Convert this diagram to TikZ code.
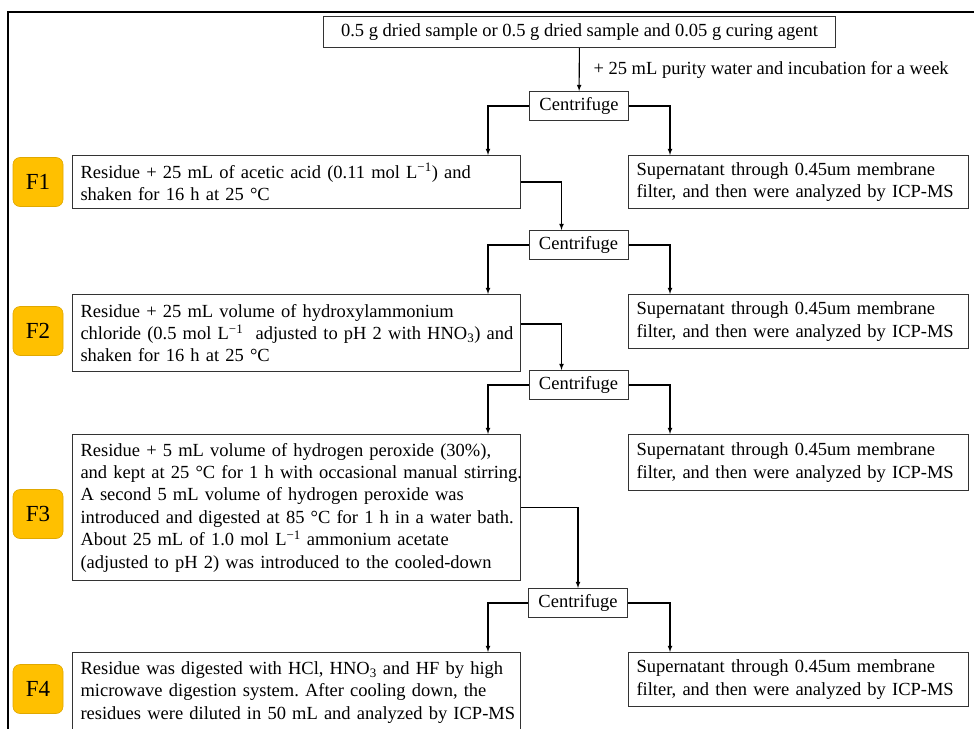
\documentclass[tikz,border=0pt]{standalone}
\usepackage{fontspec}
\setmainfont{Liberation Serif}
\frenchspacing
\definecolor{badgefill}{HTML}{FFC000}
\definecolor{badgeedge}{HTML}{E0A800}
\begin{document}
\begin{tikzpicture}[x=1pt,y=-1pt,
		every node/.style={font=\fontsize{18.5}{22.4}\selectfont},
		topbox/.style={draw=black!80,line width=1pt,anchor=north west,minimum width=512pt,minimum height=31pt,inner sep=0pt},
		stepbox/.style={draw=black!80,line width=1pt,anchor=north west,text width=448pt,inner sep=0pt,
			execute at begin node={\leftskip=8pt\rightskip=-24pt plus 1fil\relax}},
		supbox/.style={stepbox,text width=340pt},
		cfbox/.style={draw=black!80,line width=1pt,minimum width=99pt,minimum height=29pt,inner sep=0pt},
		badge/.style={fill=badgefill,draw=badgeedge,line width=0.6pt,rounded corners=7pt,minimum width=50pt,minimum height=49pt,inner sep=0pt,font=\fontsize{23}{26}\selectfont},
		conn/.style={-latex,line width=1.1pt}]
		\useasboundingbox (0,0) rectangle (974,728);
		\draw[line width=2pt] (8,745) -- (8,12) -- (990,12);
		\path
			  (323,16)   node[topbox]       (top)
			             {0.5 g dried sample or 0.5 g dried sample and 0.05 g curing agent}
			  (590,70)   node[anchor=west]  (water) {+ 25 mL purity water and incubation for a week}
			  (579,106)  node[cfbox]        (cf1)   {Centrifuge}
			  (72,155)   node[stepbox,minimum height=53pt] (f1)
			             {Residue + 25 mL of acetic acid (0.11 mol L\textsuperscript{−1}) and\\
			              shaken for 16 h at 25 °C}
			  (628,155)  node[supbox,minimum height=53pt]  (s1)
			             {Supernatant through 0.45um membrane\\ filter, and then were analyzed by ICP-MS}
			  (578.5,245) node[cfbox]       (cf2)   {Centrifuge}
			  (72,294)   node[stepbox,minimum height=77pt] (f2)
			             {Residue + 25 mL volume of hydroxylammonium\\
			              chloride (0.5 mol L\textsuperscript{−1}\ \ adjusted to pH 2 with HNO\textsubscript{3}) and\\
			              shaken for 16 h at 25 °C}
			  (628,294)  node[supbox,minimum height=54pt]  (s2)
			             {Supernatant through 0.45um membrane\\ filter, and then were analyzed by ICP-MS}
			  (578.5,385) node[cfbox]       (cf3)   {Centrifuge}
			  (72,434)   node[stepbox,minimum height=146pt] (f3)
			             {Residue + 5 mL volume of hydrogen peroxide (30\%),\\
			              and kept at 25 °C for 1 h with occasional manual stirring.\\
			              A second 5 mL volume of hydrogen peroxide was\\
			              introduced and digested at 85 °C for 1 h in a water bath.\\
			              About 25 mL of 1.0 mol L\textsuperscript{−1} ammonium acetate\\
			              (adjusted to pH 2) was introduced to the cooled-down}
			  (628,434)  node[supbox,minimum height=56pt]  (s3)
			             {Supernatant through 0.45um membrane\\ filter, and then were analyzed by ICP-MS}
			  (578,603)  node[cfbox]        (cf4)   {Centrifuge}
			  (72,652)   node[stepbox,minimum height=80pt] (f4)
			             {Residue was digested with HCl, HNO\textsubscript{3} and HF by high\\
			              microwave digestion system. After cooling down, the\\
			              residues were diluted in 50 mL and analyzed by ICP-MS}
			  (628,652)  node[supbox,minimum height=54pt]  (s4)
			             {Supernatant through 0.45um membrane\\ filter, and then were analyzed by ICP-MS}
			  (38,182)   node[badge] (b1) {F1}
			  (38,331)   node[badge] (b2) {F2}
			  (38,514)   node[badge] (b3) {F3}
			  (38,689)   node[badge] (b4) {F4}
		;
		\draw[conn] (top)                  -- (cf1);
		\draw[conn] (cf1.west)             -| ([xshift=416pt]f1.north west);
		\draw[conn] (cf1.east)             -| ([xshift=42pt]s1.north west);
		\draw[conn] (f1.east)              -| ([xshift=-17pt]cf2.north);
		\draw[conn] (cf2.west)             -| ([xshift=416pt]f2.north west);
		\draw[conn] (cf2.east)             -| ([xshift=42pt]s2.north west);
		\draw[conn] ([yshift=9pt]f2.east)  -| ([xshift=-17pt]cf3.north);
		\draw[conn] (cf3.west)             -| ([xshift=416pt]f3.north west);
		\draw[conn] (cf3.east)             -| ([xshift=42pt]s3.north west);
		\draw[conn] (f3.east)              -| (cf4.north);
		\draw[conn] (cf4.west)             -| ([xshift=416pt]f4.north west);
		\draw[conn] (cf4.east)             -| ([xshift=42pt]s4.north west);
	\end{tikzpicture}
\end{document}
